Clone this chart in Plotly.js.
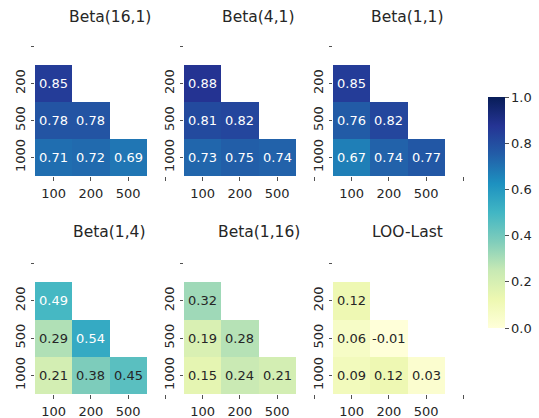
<!DOCTYPE html>
<html>
<head>
<meta charset="utf-8">
<script src="https://cdn.plot.ly/plotly-3.0.1.min.js"></script>
<style>
  html, body { margin: 0; padding: 0; background: #fff; }
  #chart { width: 539px; height: 418px; }
</style>
</head>
<body>
<div id="chart"></div>
<script>
// Row / column labels of every triangular panel (first row and last column are masked)
const rowLabels = ["", "200", "500", "1000"];
const colLabels = ["100", "200", "500", ""];

// Panel titles
const panelTitles = ["Beta(16,1)", "Beta(4,1)", "Beta(1,1)", "Beta(1,4)", "Beta(1,16)", "LOO-Last"];

// Lower-triangle values, one row per visible row label (200, 500, 1000)
const beta16_1 = [[0.85], [0.78, 0.78], [0.71, 0.72, 0.69]];
const beta4_1  = [[0.88], [0.81, 0.82], [0.73, 0.75, 0.74]];
const beta1_1  = [[0.85], [0.76, 0.82], [0.67, 0.74, 0.77]];
const beta1_4  = [[0.49], [0.29, 0.54], [0.21, 0.38, 0.45]];
const beta1_16 = [[0.32], [0.19, 0.28], [0.15, 0.24, 0.21]];
const looLast  = [[0.12], [0.06, -0.01], [0.09, 0.12, 0.03]];

const panelValues = [beta16_1, beta4_1, beta1_1, beta1_4, beta1_16, looLast];

// YlGnBu (ColorBrewer, 9 classes)
const ylgnbu = ["#ffffd9", "#edf8b1", "#c7e9b4", "#7fcdbb", "#41b6c4",
                "#1d91c0", "#225ea8", "#253494", "#081d58"];
const colorscale = ylgnbu.map((c, i) => [i / (ylgnbu.length - 1), c]);

const W = 539, H = 418;
const FONT = "DejaVu Sans, sans-serif";
const INK = "#262626";
const FS = 13;

function hexToRgb(h) {
  return [parseInt(h.slice(1, 3), 16), parseInt(h.slice(3, 5), 16), parseInt(h.slice(5, 7), 16)];
}
function colorAt(v) {
  const t = Math.min(1, Math.max(0, v)) * (ylgnbu.length - 1);
  const i = Math.min(ylgnbu.length - 2, Math.floor(t));
  const f = t - i;
  const a = hexToRgb(ylgnbu[i]), b = hexToRgb(ylgnbu[i + 1]);
  return a.map((c, k) => c + (b[k] - c) * f);
}
function luminance(rgb) {
  const lin = rgb.map(c => {
    c = c / 255;
    return c <= 0.03928 ? c / 12.92 : Math.pow((c + 0.055) / 1.055, 2.4);
  });
  return 0.2126 * lin[0] + 0.7152 * lin[1] + 0.0722 * lin[2];
}

// Full 4x4 matrix with the masked cells left empty
function fullMatrix(tri) {
  const z = rowLabels.map(() => colLabels.map(() => null));
  tri.forEach((row, r) => row.forEach((v, c) => { z[r + 1][c] = v; }));
  return z;
}

// Panel placement in pixels
const colPx = [[35, 184], [184, 333], [333, 482]];
const rowPx = [[28, 176], [245, 394]];
const titleY = [17, 232];

const data = [];
const layout = {
  width: W, height: H,
  margin: { l: 0, r: 0, t: 0, b: 0 },
  paper_bgcolor: "#fff", plot_bgcolor: "#fff",
  font: { family: FONT, size: FS, color: INK },
  showlegend: false,
  annotations: []
};

panelValues.forEach((tri, p) => {
  const r = Math.floor(p / 3), c = p % 3;
  const ax = p === 0 ? "" : String(p + 1);
  const z = fullMatrix(tri);
  const xIdx = colLabels.map((_, i) => i);
  const yIdx = rowLabels.map((_, i) => i);

  const trace = {
    type: "heatmap",
    z: z, x: xIdx, y: yIdx,
    xaxis: "x" + ax, yaxis: "y" + ax,
    zmin: 0, zmax: 1,
    colorscale: colorscale,
    hoverongaps: false,
    showscale: p === 0
  };
  if (p === 0) {
    trace.colorbar = {
      x: 488 / W, xanchor: "left", xref: "paper", xpad: 0,
      y: 1 - 97 / H, yanchor: "top", yref: "paper", ypad: 0,
      len: (328 - 97) / H, lenmode: "fraction",
      thickness: 17, thicknessmode: "pixels",
      outlinewidth: 0,
      ticks: "outside", ticklen: 4, tickwidth: 0.8, tickcolor: INK,
      tickvals: [0, 0.2, 0.4, 0.6, 0.8, 1.0],
      tickformat: ".1f",
      tickfont: { family: FONT, size: FS, color: INK }
    };
  }
  data.push(trace);

  const xd = colPx[c].map(v => v / W);
  const yd = [1 - rowPx[r][1] / H, 1 - rowPx[r][0] / H];

  layout["xaxis" + ax] = {
    domain: xd, anchor: "y" + ax,
    range: [-0.5, colLabels.length - 0.5],
    tickvals: xIdx, ticktext: colLabels,
    ticks: "outside", ticklen: 3.5, tickwidth: 0.8, tickcolor: INK,
    ticklabelstandoff: 2,
    showgrid: false, zeroline: false, showline: false,
    tickfont: { family: FONT, size: FS, color: INK },
    fixedrange: true
  };
  layout["yaxis" + ax] = {
    domain: yd, anchor: "x" + ax,
    range: [rowLabels.length - 0.5, -0.5],
    tickvals: yIdx, ticktext: rowLabels,
    tickangle: -90,
    ticks: "outside", ticklen: 3.5, tickwidth: 0.8, tickcolor: INK,
    showgrid: false, zeroline: false, showline: false,
    tickfont: { family: FONT, size: FS, color: INK },
    fixedrange: true
  };

  // Panel title
  layout.annotations.push({
    xref: "paper", yref: "paper",
    x: (colPx[c][0] + colPx[c][1]) / 2 / W,
    y: 1 - titleY[r] / H,
    text: panelTitles[p], showarrow: false,
    xanchor: "center", yanchor: "middle",
    font: { family: FONT, size: 15.5, color: INK }
  });

  // Cell value labels, contrasting with the cell colour
  z.forEach((row, ri) => row.forEach((v, ci) => {
    if (v === null) return;
    const dark = luminance(colorAt(v)) > 0.408;
    layout.annotations.push({
      xref: "x" + ax, yref: "y" + ax,
      x: ci, y: ri,
      text: v.toFixed(2), showarrow: false,
      xanchor: "center", yanchor: "middle",
      font: { family: FONT, size: FS, color: dark ? INK : "#ffffff" }
    });
  }));
});

Plotly.newPlot("chart", data, layout, { displayModeBar: false, staticPlot: true });
</script>
</body>
</html>
